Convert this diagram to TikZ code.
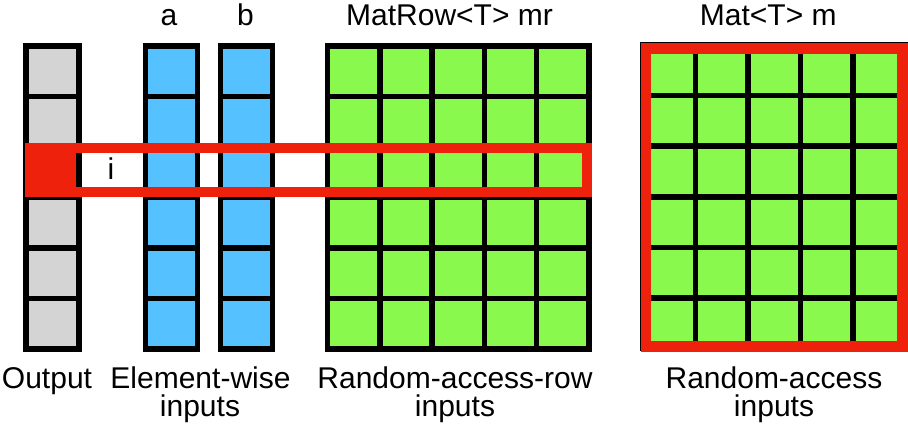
\documentclass[tikz,border=0pt]{standalone}
\usepackage{fontspec}
\setmainfont{Liberation Sans}
\definecolor{cellgray}{HTML}{D4D4D4}
\definecolor{cellblue}{HTML}{56C1FF}
\definecolor{cellgreen}{HTML}{89F94E}
\definecolor{hilite}{HTML}{EE220C}

\begin{document}
\begin{tikzpicture}[x=1pt,y=-1pt,
  cellbox/.style={draw=black,line width=5.5pt},
  hiframe/.style={draw=hilite,line width=10.5pt},
  lbl/.style={inner sep=0pt,anchor=base,font=\fontsize{30}{27}\selectfont}]
\useasboundingbox (0,0) rectangle (908,425);

% output vector, element i highlighted
\foreach \r in {0,...,5}
  \draw[cellbox,fill=cellgray] (26,46+\r*50.5) rectangle (79,46+\r*50.5+50.5);
\fill[hilite] (28,149.5) rectangle (76.5,195);
\foreach \r in {0,...,5}
  \draw[cellbox] (26,46+\r*50.5) rectangle (79,46+\r*50.5+50.5);

% element-wise inputs a and b
\foreach \x in {145.5,220.5}
  \foreach \r in {0,...,5}
    \draw[cellbox,fill=cellblue] (\x,46+\r*50.5) rectangle (\x+52,46+\r*50.5+50.5);

% row-accessed matrix
\foreach \c in {0,...,4}
  \foreach \r in {0,...,5}
    \draw[cellbox,fill=cellgreen] (327.5+\c*52.3,46+\r*50.5) rectangle (327.5+\c*52.3+52.3,46+\r*50.5+50.5);

% fully random-access matrix
\foreach \c in {0,...,4}
  \foreach \r in {0,...,5}
    \draw[cellbox,fill=cellgreen] (643.2+\c*52.5,45+\r*50.6) rectangle (643.2+\c*52.5+52.5,45+\r*50.6+50.6);
\draw[hiframe] (646,48.6) rectangle (902.7,346.5);

% row i across all inputs
\draw[hiframe,line width=10pt] (30,147.7) rectangle (587,192.3);
\node[lbl] (idx) at (111,179.3) {i};

% headings
\node[lbl] (la) at (169,26) {a};
\node[lbl] (lb) at (245.5,26) {b};
\node[lbl] (lmr) at (449.5,26) {MatRow<T> mr};
\node[lbl] (lm) at (768.3,26) {Mat<T> m};

% captions
\node[lbl] (cout) at (47,388) {Output};
\node[lbl] (cew1) at (200.5,388) {Element-wise};
\node[lbl] (cew2) at (200,416) {inputs};
\node[lbl] (crr1) at (455,388) {Random-access-row};
\node[lbl] (crr2) at (455,416) {inputs};
\node[lbl] (cra1) at (774,388) {Random-access};
\node[lbl] (cra2) at (774,416) {inputs};
\end{tikzpicture}
\end{document}
